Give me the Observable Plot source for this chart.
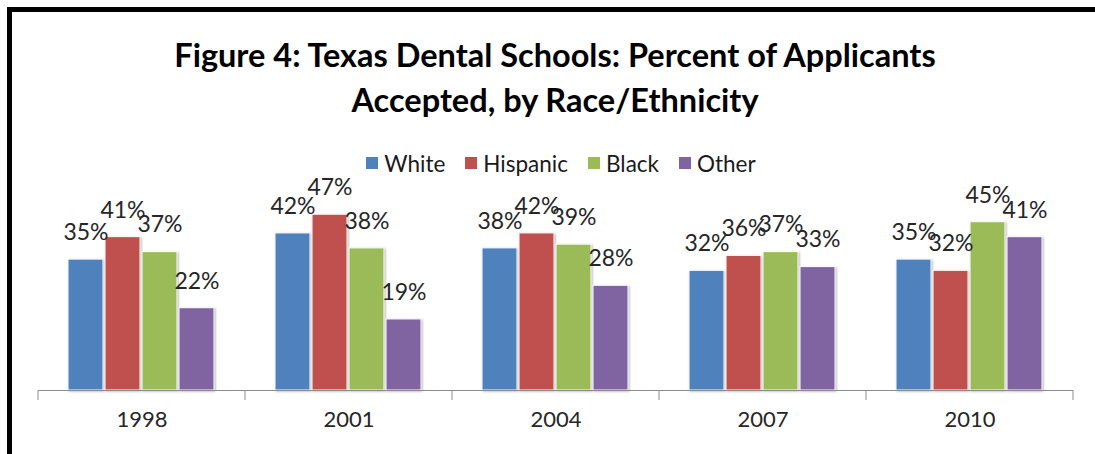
<!DOCTYPE html>
<html><head><meta charset="utf-8">
<script src="https://cdn.jsdelivr.net/npm/d3@7"></script>
<script src="https://cdn.jsdelivr.net/npm/@observablehq/plot@0.6"></script>
<style>
body{margin:0;background:#fff;}
#wrap{position:relative;width:1095px;height:454px;overflow:hidden;font-family:Lato,sans-serif;}
#frame{position:absolute;left:7px;top:7px;right:-10px;bottom:-10px;border-left:5px solid #000;border-top:5px solid #000;}
#title{position:absolute;left:15px;width:1080px;top:32px;text-align:center;font-weight:bold;font-size:32.5px;line-height:45px;color:#000;}
#legend{position:absolute;left:0;width:1122px;top:151px;height:24px;display:flex;justify-content:center;align-items:center;font-size:22.5px;color:#1a1a1a;}
.item{display:flex;align-items:center;margin:0 10px;}
.sw{width:12px;height:12px;margin-right:6px;}
#chart{position:absolute;left:0;top:180px;}
#chart svg rect{filter:drop-shadow(1.5px 1px 1px rgba(0,0,0,0.3));}
</style></head>
<body>
<div id="wrap">
  <div id="frame"></div>
  <div id="title">Figure 4: Texas Dental Schools: Percent of Applicants<br>Accepted, by Race/Ethnicity</div>
  <div id="legend"></div>
  <div id="chart"></div>
</div>
<script>
const years = ["1998", "2001", "2004", "2007", "2010"];
const races = ["White", "Hispanic", "Black", "Other"];
const colors = ["#4F81BD", "#C0504D", "#9BBB59", "#8064A2"];
const white = [35, 42, 38, 32, 35];
const hispanic = [41, 47, 42, 36, 32];
const black = [37, 38, 39, 37, 45];
const other = [22, 19, 28, 33, 41];
const series = [white, hispanic, black, other];

const rows = years.flatMap((yr, i) => races.map((r, j) => ({year: yr, race: r, value: series[j][i]})));

const legend = document.getElementById("legend");
races.forEach((r, j) => {
  const it = document.createElement("div");
  it.className = "item";
  it.innerHTML = `<span class="sw" style="background:${colors[j]}"></span><span>${r}</span>`;
  legend.appendChild(it);
});

const chart = Plot.plot({
  width: 1095, height: 274,
  marginLeft: 36, marginRight: 20, marginTop: 23, marginBottom: 64,
  fx: {domain: years, padding: 0, axis: null},
  x: {domain: races, paddingInner: 0.05, paddingOuter: 0.8, axis: null},
  y: {domain: [0, 50], axis: null},
  color: {domain: races, range: colors},
  style: {fontFamily: "Lato, sans-serif", background: "transparent", overflow: "visible"},
  marks: [
    Plot.barY(rows, {fx: "year", x: "race", y: "value", fill: "race", stroke: "white", strokeWidth: 1}),
    Plot.ruleY([0], {stroke: "#8c8c8c"}),
    Plot.text(rows, {fx: "year", x: "race", y: "value", text: d => d.value + "%", dy: -27, fontSize: 23, fill: "#262626"}),
    Plot.text(years, {fx: d => d, text: d => d, frameAnchor: "bottom", dy: 36, fontSize: 22, fill: "#262626"})
  ]
});
document.getElementById("chart").appendChild(chart);

const fx = chart.scale("fx");
const ys = chart.scale("y");
const y0 = ys.apply(0);
const bounds = years.map(yr => fx.apply(yr)).concat([fx.apply(years[years.length - 1]) + fx.bandwidth]);
d3.select(chart).append("g")
  .selectAll("line").data(bounds).join("line")
  .attr("x1", d => d).attr("x2", d => d)
  .attr("y1", y0).attr("y2", y0 + 10)
  .attr("stroke", "#8c8c8c");
</script>
</body></html>
